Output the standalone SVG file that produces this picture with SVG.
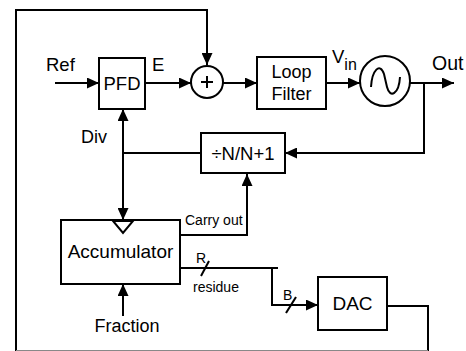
<svg xmlns="http://www.w3.org/2000/svg" width="466" height="351" viewBox="0 0 466 351">
<style>
.box{fill:#fff;stroke:#000;stroke-width:2}
.ln{fill:none;stroke:#000;stroke-width:2}
.t{font-family:"Liberation Sans",Arial,sans-serif;fill:#000}
</style>
<defs>
<marker id="ah" markerUnits="userSpaceOnUse" markerWidth="12" markerHeight="11" refX="12" refY="5.5" orient="auto">
<path d="M0,0 L12,5.5 L0,11 z" fill="#000"/>
</marker>
</defs>
<rect width="466" height="351" fill="#fff"/>
<g id="connectors">
<path class="ln" d="M55,83 H99" marker-end="url(#ah)"/>
<path class="ln" d="M145,83 H191" marker-end="url(#ah)"/>
<path class="ln" d="M223,83 H257" marker-end="url(#ah)"/>
<path class="ln" d="M326,83 H360" marker-end="url(#ah)"/>
<path class="ln" d="M410,83 H454" marker-end="url(#ah)"/>
<path class="ln" d="M424,83 V153 H285" marker-end="url(#ah)"/>
<path class="ln" d="M201,153 H123"/>
<path class="ln" d="M123,153 V109" marker-end="url(#ah)"/>
<path class="ln" d="M123,153 V220" marker-end="url(#ah)"/>
<path class="ln" d="M180,235 H247 V174" marker-end="url(#ah)"/>
<path class="ln" d="M180,268 H278"/>
<path class="ln" d="M272,268 V305 H318" marker-end="url(#ah)"/>
<path class="ln" d="M387,306 H428 V351 M16,351 V10 H207 V65" marker-end="url(#ah)"/>
<path d="M428,350.5 H16" fill="none" stroke="#888" stroke-width="1"/>
<path class="ln" d="M123,316 V284" marker-end="url(#ah)"/>
<line class="ln" x1="201" y1="276" x2="209" y2="261"/>
<line class="ln" x1="286" y1="313" x2="296" y2="297"/>
</g>
<g id="pfd">
<rect class="box" x="99" y="58" width="46" height="51"/>
<text class="t" x="122" y="90" font-size="18.5" text-anchor="middle">PFD</text>
</g>
<g id="sum">
<circle class="box" cx="207" cy="82" r="16"/>
<path class="ln" d="M201,82 H213 M207,76 V88"/>
</g>
<g id="loopfilter">
<rect class="box" x="257" y="57" width="69" height="52"/>
<text class="t" x="291.5" y="78" font-size="18" text-anchor="middle">Loop</text>
<text class="t" x="291.5" y="100" font-size="18" text-anchor="middle">Filter</text>
</g>
<g id="vco">
<circle class="box" cx="385" cy="81" r="25"/>
<path class="ln" d="M371,87 C372,70 380,62 384,74 L387,87 C390,99 399,94 400,77"/>
</g>
<g id="divider">
<rect class="box" x="201" y="133" width="84" height="40"/>
<text class="t" x="243" y="160" font-size="18.5" text-anchor="middle">÷N/N+1</text>
</g>
<g id="accumulator">
<rect class="box" x="61" y="220" width="119" height="64"/>
<path d="M113,221 L133,221 L123,233 z" fill="#fff" stroke="#000" stroke-width="2"/>
<text class="t" x="120.5" y="258" font-size="19" text-anchor="middle">Accumulator</text>
</g>
<g id="dac">
<rect class="box" x="318" y="277" width="69" height="53"/>
<text class="t" x="352.5" y="310" font-size="19" text-anchor="middle">DAC</text>
</g>
<g id="labels">
<text class="t" x="46" y="71" font-size="18.5">Ref</text>
<text class="t" x="152" y="71" font-size="18.5">E</text>
<text class="t" x="81" y="143" font-size="18">Div</text>
<text class="t" x="332" y="63" font-size="18.5">V<tspan font-size="16" dy="7">in</tspan></text>
<text class="t" x="432" y="70" font-size="19.5">Out</text>
<text class="t" x="185" y="225" font-size="14">Carry out</text>
<text class="t" x="196" y="263" font-size="14">R</text>
<text class="t" x="193" y="292" font-size="14">residue</text>
<text class="t" x="283" y="300" font-size="14">B</text>
<text class="t" x="127" y="332" font-size="18" text-anchor="middle">Fraction</text>
</g>
</svg>
